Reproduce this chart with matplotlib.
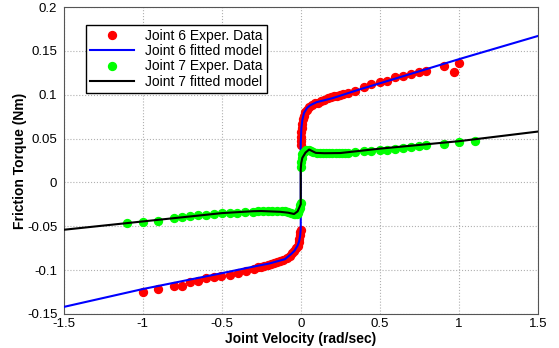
import matplotlib
matplotlib.use("Agg")
import matplotlib.pyplot as plt

plt.rcParams['font.family'] = ['Liberation Sans', 'DejaVu Sans']

# Joint 6 experimental data
j6_v = [-0.998, -0.903, -0.80, -0.749, -0.70, -0.65, -0.599, -0.549, -0.503, -0.449, -0.397, -0.346, -0.296,
        -0.27, -0.25, -0.23, -0.21, -0.19, -0.17, -0.15, -0.13, -0.11, -0.09, -0.07, -0.055, -0.04, -0.03,
        -0.02, -0.013, -0.008, -0.005, -0.003, -0.001,
        0.0, 0.001, 0.002, 0.003, 0.005, 0.008, 0.013, 0.02, 0.03, 0.04, 0.055, 0.07, 0.09, 0.11, 0.13, 0.15,
        0.17, 0.19, 0.21, 0.23, 0.25, 0.27,
        0.297, 0.346, 0.397, 0.447, 0.498, 0.544, 0.595, 0.645, 0.70, 0.75, 0.795, 0.903, 0.97, 0.998]
j6_f = [-0.1254, -0.1212, -0.1178, -0.1178, -0.114, -0.1129, -0.109, -0.1083, -0.107, -0.1053, -0.103, -0.101, -0.0985,
        -0.0965, -0.096, -0.095, -0.094, -0.093, -0.092, -0.091, -0.0895, -0.088, -0.086, -0.0835, -0.081, -0.078, -0.075,
        -0.072, -0.068, -0.064, -0.060, -0.057, -0.054,
        0.043, 0.047, 0.052, 0.057, 0.062, 0.067, 0.072, 0.076, 0.080, 0.083, 0.086, 0.088, 0.090, 0.091, 0.093, 0.094,
        0.096, 0.097, 0.098, 0.099, 0.100, 0.101,
        0.1019, 0.1045, 0.1087, 0.1125, 0.1144, 0.1159, 0.1197, 0.1216, 0.1235, 0.1254, 0.1273, 0.1333, 0.1258, 0.1367]

# Joint 6 fitted model
j6m_v = [-1.5, -1.0, -0.5, -0.3, -0.2, -0.1, -0.06, -0.04, -0.02, -0.01, -0.004, 0.0,
         0.0, 0.004, 0.01, 0.02, 0.04, 0.06, 0.1, 0.2, 0.38, 0.5, 1.0, 1.5]
j6m_f = [-0.142, -0.1216, -0.1035, -0.096, -0.0925, -0.0875, -0.0815, -0.078, -0.072, -0.067, -0.061, -0.053,
         0.045, 0.062, 0.071, 0.079, 0.085, 0.088, 0.0915, 0.096, 0.1065, 0.113, 0.1405, 0.167]

# Joint 7 experimental data
j7_v = [-1.10, -1.0, -0.903, -0.80, -0.75, -0.70, -0.65, -0.60, -0.55, -0.50, -0.45, -0.40, -0.35,
        -0.30, -0.27, -0.24, -0.21, -0.18, -0.15, -0.12, -0.10, -0.08, -0.06, -0.045, -0.035, -0.025,
        -0.018, -0.012, -0.007, -0.003, -0.001,
        0.001, 0.003, 0.006, 0.01, 0.02, 0.035, 0.05, 0.065, 0.08, 0.10, 0.12, 0.14, 0.16, 0.18, 0.20,
        0.22, 0.24, 0.26, 0.28,
        0.297, 0.346, 0.397, 0.447, 0.498, 0.544, 0.595, 0.645, 0.70, 0.75, 0.795, 0.903, 0.998, 1.10]
j7_f = [-0.0458, -0.0447, -0.0436, -0.0405, -0.0394, -0.0383, -0.0375, -0.0367, -0.036, -0.0352, -0.0352, -0.0348, -0.034,
        -0.0333, -0.033, -0.0328, -0.0326, -0.0325, -0.0325, -0.0327, -0.033, -0.0337, -0.0347, -0.0357, -0.0362, -0.036,
        -0.0345, -0.032, -0.029, -0.026, -0.023,
        0.018, 0.023, 0.028, 0.032, 0.035, 0.037, 0.0375, 0.036, 0.0345, 0.0337, 0.0333, 0.0332, 0.0332, 0.0333, 0.0333,
        0.0335, 0.0335, 0.0337, 0.0338,
        0.0337, 0.0345, 0.0356, 0.0364, 0.0367, 0.0375, 0.0386, 0.039, 0.0402, 0.0413, 0.0424, 0.0443, 0.0462, 0.0477]

# Joint 7 fitted model
j7m_v = [-1.5, -1.0, -0.5, -0.3, -0.25, -0.13, -0.08, -0.042, -0.02, -0.01, -0.003, 0.0,
         0.0, 0.003, 0.01, 0.03, 0.053, 0.075, 0.095, 0.15, 0.25, 0.5, 1.0, 1.5]
j7m_f = [-0.054, -0.0445, -0.035, -0.0328, -0.0326, -0.0335, -0.0345, -0.036, -0.033, -0.029, -0.026, -0.025,
         0.015, 0.022, 0.028, 0.034, 0.0375, 0.0355, 0.0337, 0.0333, 0.0335, 0.0385, 0.047, 0.058]

x_ticks = [-1.5, -1.0, -0.5, 0.0, 0.5, 1.0, 1.5]
x_tick_labels = ['-1.5', '-1', '-0.5', '0', '0.5', '1', '1.5']
y_ticks = [-0.15, -0.1, -0.05, 0.0, 0.05, 0.1, 0.15, 0.2]
y_tick_labels = ['-0.15', '-0.1', '-0.05', '0', '0.05', '0.1', '0.15', '0.2']

fig = plt.figure(figsize=(5.59, 3.48), dpi=100)
ax = fig.add_axes([63.5/559, 34/348, 474.5/559, 307/348])

ax.plot(j6_v, j6_f, 'o', color='#ff0000', ms=5.7, mec='#ff0000', label='Joint 6 Exper. Data', zorder=2)
ax.plot(j6m_v, j6m_f, '-', color='#0000ff', lw=1.5, label='Joint 6 fitted model', zorder=3)
ax.plot(j7_v, j7_f, 'o', color='#00ff00', ms=5.7, mec='#00ff00', label='Joint 7 Exper. Data', zorder=4)
ax.plot(j7m_v, j7m_f, '-', color='#000000', lw=1.5, label='Joint 7 fitted model', zorder=5)

ax.set_xlim(-1.5, 1.5)
ax.set_ylim(-0.15, 0.2)
ax.set_xticks(x_ticks)
ax.set_xticklabels(x_tick_labels)
ax.set_yticks(y_ticks)
ax.set_yticklabels(y_tick_labels)
ax.tick_params(axis='x', labelsize=9.5, length=0, pad=3)
ax.tick_params(axis='y', labelsize=9.5, length=0, pad=4.5)
ax.grid(True, color='#b0b0b0', linestyle=':', linewidth=0.8)
for s in ax.spines.values():
    s.set_color('#555555')
    s.set_linewidth(0.8)

ax.set_xlabel('Joint Velocity (rad/sec)', fontsize=10, fontweight='bold', labelpad=1)
ax.set_ylabel('Friction Torque (Nm)', fontsize=10, fontweight='bold', labelpad=0)

leg = ax.legend(loc='upper left', bbox_to_anchor=(22/474.5, (314-25)/307), fontsize=10,
                frameon=True, fancybox=False, edgecolor='black', framealpha=1,
                labelspacing=0.08, handlelength=3.2, handletextpad=0.8, borderpad=0.3,
                borderaxespad=0)
leg.get_frame().set_linewidth(1.0)

fig.savefig('out.png', dpi=100)
